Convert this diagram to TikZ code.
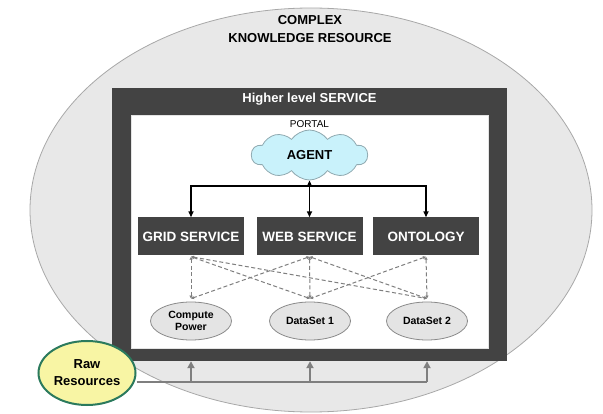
\documentclass[tikz,border=0pt]{standalone}
\usepackage{fontspec}
\setmainfont{Liberation Sans}
\usetikzlibrary{positioning, shapes, shapes.symbols, arrows.meta, calc}

\definecolor{ringfill}{HTML}{E8E8E8}
\definecolor{ringline}{HTML}{A8A8A8}
\definecolor{framegray}{HTML}{434343}
\definecolor{storefill}{HTML}{E4E4E4}
\definecolor{storeline}{HTML}{8A8A8A}
\definecolor{agentfill}{HTML}{C9F2FB}
\definecolor{agentline}{HTML}{8FA9B0}
\definecolor{rawfill}{HTML}{F8F5A4}
\definecolor{rawline}{HTML}{2B7A5D}
\definecolor{feedgray}{HTML}{7F7F7F}

\tikzset{
  service/.style={fill=framegray, text=white, inner sep=0pt,
    font=\fontsize{13.5}{15}\selectfont\bfseries,
    minimum width=106pt, minimum height=38pt},
  store/.style={ellipse, draw=storeline, fill=storefill, line width=0.8pt,
    inner sep=0pt, align=center, font=\fontsize{10.5}{12}\selectfont\bfseries,
    minimum width=81pt, minimum height=38pt},
  agentlink/.style={line width=1.5pt, -{Triangle[length=6pt,width=5pt]}},
  datalink/.style={dash pattern=on 4pt off 2.5pt, draw=feedgray, line width=1pt,
    {Latex[length=3pt,width=3.5pt]}-{Latex[length=3pt,width=3.5pt]}},
  feed/.style={draw=feedgray, line width=2.2pt}
}

\begin{document}
\begin{tikzpicture}[x=1pt, y=-1pt]
  \useasboundingbox (0,0) rectangle (603,414);

  % Knowledge resource
  \node[ellipse, draw=ringline, fill=ringfill, line width=0.8pt,
        minimum width=562pt, minimum height=404pt] (ckr) at (311,210) {};
  \node[align=center, font=\fontsize{13}{17.5}\selectfont\bfseries] (ckrlabel) at (310,29)
        {COMPLEX\\KNOWLEDGE RESOURCE};

  % Higher level service
  \node[fill=framegray, inner sep=0pt, minimum width=395pt, minimum height=273pt] (hls) at (309.5,224.5) {};
  \node[fill=white, draw=storefill, inner sep=0pt, minimum width=357pt, minimum height=233pt] (portal) at (309.5,231.5) {};
  \node[text=white, font=\fontsize{13}{15}\selectfont\bfseries] (hlslabel) at (309.5,99) {Higher level SERVICE};
  \node[font=\fontsize{10}{12}\selectfont] (portallabel) at (309.5,124) {PORTAL};

  % Agent
  \node[cloud, cloud puffs=10, cloud puff arc=110, aspect=2.3, draw=agentline, fill=agentfill, line width=0.8pt,
        minimum width=116pt, minimum height=50pt, inner sep=0pt,
        font=\fontsize{13}{15}\selectfont\bfseries] (agent) at (309.5,155) {AGENT};

  % Services
  \node[service] (grid) at (191,236.5) {GRID SERVICE};
  \node[service] (web) at (309.5,236.5) {WEB SERVICE};
  \node[service] (onto) at (426,236.5) {ONTOLOGY};

  % Data
  \node[store] (cpu) at (191,321) {Compute\\Power};
  \node[store] (ds1) at (310,321) {DataSet 1};
  \node[store] (ds2) at (427,321) {DataSet 2};

  % Raw resources
  \node[ellipse, draw=rawline, fill=rawfill, line width=2pt, inner sep=0pt,
        minimum width=97pt, minimum height=64pt, align=center,
        font=\fontsize{13}{17}\selectfont\bfseries] (raw) at (87,373) {Raw\\Resources};

  % Agent links
  \coordinate (bus) at (309.5,186);
  \draw[line width=1.5pt, {Triangle[length=6pt,width=5pt]}-{Triangle[length=6pt,width=5pt]}]
        (web.north |- agent.south) -- (web.north);
  \draw[agentlink] (bus) -| (grid.north);
  \draw[agentlink] (bus) -| (onto.north);

  % Data links
  \foreach \s/\d in {grid/cpu, grid/ds1, grid/ds2, web/cpu, web/ds1, web/ds2, onto/ds1, onto/ds2}
    \draw[datalink] ([yshift=-1pt]\s.south) -- ([yshift=3pt]\d.north);

  % Raw feed
  \coordinate (tap) at ($(raw.east)+(0,9)$);
  \draw[feed] (tap) -- (tap -| ds2.south);
  \foreach \d in {cpu, ds1, ds2}
    \draw[feed, -{Triangle[length=7pt,width=7pt]}] (tap -| \d.south) -- (hls.south -| \d.south);

\end{tikzpicture}
\end{document}
